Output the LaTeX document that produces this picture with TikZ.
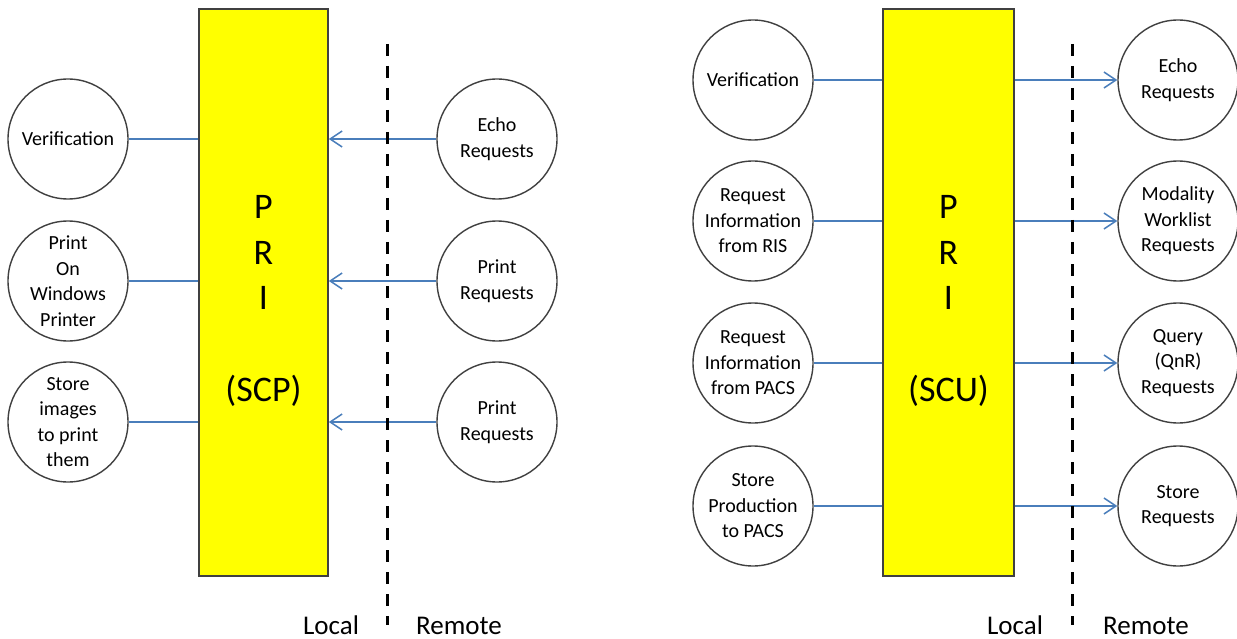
\documentclass[tikz,border=0pt]{standalone}
\usepackage{fontspec}
\setmainfont{Carlito}
\usetikzlibrary{arrows.meta}

\definecolor{linkblue}{RGB}{74,126,187}
\definecolor{priyellow}{RGB}{255,255,0}
\definecolor{edgegray}{RGB}{64,64,64}

\tikzset{
  task/.style={circle, draw=edgegray, line width=1.4pt, minimum size=120pt, inner sep=0pt,
    align=center, font=\fontsize{20}{25.5}\selectfont},
  pribox/.style={draw=edgegray, line width=1.6pt, fill=priyellow, minimum height=567pt, inner sep=0pt},
  bigtext/.style={font=\fontsize{36}{43}\selectfont},
  sidetext/.style={font=\fontsize{27}{32}\selectfont, anchor=base, inner sep=0pt},
  link/.style={draw=linkblue, line width=1.5pt},
  arr/.style={link, -{Straight Barb[length=12pt,width=16pt,line width=1.5pt]}},
  divider/.style={line width=3pt, dash pattern=on 12pt off 10pt}
}

\begin{document}
\begin{tikzpicture}[x=1pt, y=-1pt]
    \useasboundingbox (0,0) rectangle (1237,639);

    % Left picture: PRI as SCP
    \node[pribox, minimum width=129pt] (scp) at (263.5,292.5) {};
    \node[bigtext] (scpP) at (263.5,207) {P};
    \node[bigtext] (scpR) at (263.5,253) {R};
    \node[bigtext] (scpI) at (263.5,298) {I};
    \node[bigtext] (scpName) at (263.5,391) {(SCP)};

    % Local services of the SCP
    \node[task] (lver) at (68,139) {Verification};
    \node[task] (lprint) at (68,281) {Print\\On\\Windows\\Printer};
    \node[task] (lstore) at (68,422) {Store\\images\\to print\\them};

    % Remote requests coming in
    \node[task] (lecho) at (497,139) {Echo\\Requests};
    \node[task] (lpreq) at (497,281) {Print\\Requests};
    \node[task] (lpreqb) at (497,422) {Print\\Requests};

    \draw[link] (lver) -- (lver -| scp.west);
    \draw[link] (lprint) -- (lprint -| scp.west);
    \draw[link] (lstore) -- (lstore -| scp.west);

    \draw[arr] (lecho) -- (lecho -| scp.east);
    \draw[arr] (lpreq) -- (lpreq -| scp.east);
    \draw[arr] (lpreqb) -- (lpreqb -| scp.east);

    % Border between local and remote side
    \coordinate (ltop) at (387,44);
    \coordinate (lbot) at (387,625);
    \draw[divider] (ltop) -- (lbot);
    \node[sidetext] (llocal) at (331,634) {Local};
    \node[sidetext] (lremote) at (459,634) {Remote};

    % Right picture: PRI as SCU
    \node[pribox, minimum width=131pt] (scu) at (948.5,292.5) {};
    \node[bigtext] (scuP) at (948.5,207) {P};
    \node[bigtext] (scuR) at (948.5,253) {R};
    \node[bigtext] (scuI) at (948.5,298) {I};
    \node[bigtext] (scuName) at (948.5,391) {(SCU)};

    % Local services of the SCU
    \node[task] (rver) at (753,80) {Verification};
    \node[task] (rris) at (753,221) {Request\\Information\\from RIS};
    \node[task] (rpacs) at (753,363) {Request\\Information\\from PACS};
    \node[task] (rstore) at (753,506) {Store\\Production\\to PACS};

    % Requests sent to the remote side
    \node[task] (recho) at (1178,80) {Echo\\Requests};
    \node[task] (rwork) at (1178,221) {Modality\\Worklist\\Requests};
    \node[task] (rquery) at (1178,363) {Query\\(QnR)\\Requests};
    \node[task] (rsreq) at (1178,506) {Store\\Requests};

    \draw[link] (rver) -- (rver -| scu.west);
    \draw[link] (rris) -- (rris -| scu.west);
    \draw[link] (rpacs) -- (rpacs -| scu.west);
    \draw[link] (rstore) -- (rstore -| scu.west);

    \draw[arr] (recho -| scu.east) -- (recho);
    \draw[arr] (rwork -| scu.east) -- (rwork);
    \draw[arr] (rquery -| scu.east) -- (rquery);
    \draw[arr] (rsreq -| scu.east) -- (rsreq);

    \coordinate (rtop) at (1072,44);
    \coordinate (rbot) at (1072,625);
    \draw[divider] (rtop) -- (rbot);
    \node[sidetext] (rlocal) at (1015,634) {Local};
    \node[sidetext] (rremote) at (1146,634) {Remote};

\end{tikzpicture}
\end{document}
